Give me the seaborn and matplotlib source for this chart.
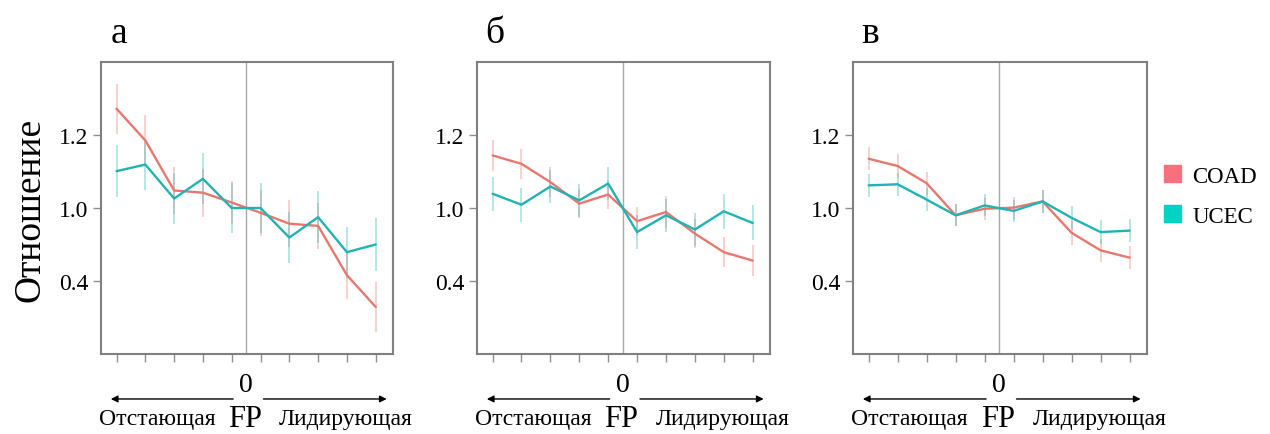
import numpy as np
import pandas as pd
import matplotlib
matplotlib.use("Agg")
import matplotlib.pyplot as plt
import matplotlib.transforms as mtransforms
from matplotlib.patches import Patch
import seaborn as sns

# data
positions = list(range(1, 11))
panel_labels = ["а", "б", "в"]
groups = ["COAD", "UCEC"]

coad_a = [1.272, 1.185, 1.048, 1.042, 1.015, 0.987, 0.957, 0.951, 0.816, 0.729]
ucec_a = [1.101, 1.119, 1.026, 1.080, 1.000, 1.000, 0.919, 0.975, 0.879, 0.900]
coad_a_err = [0.069, 0.070, 0.065, 0.066, 0.060, 0.063, 0.065, 0.064, 0.066, 0.068]
ucec_a_err = [0.072, 0.070, 0.070, 0.070, 0.068, 0.068, 0.070, 0.072, 0.070, 0.073]

coad_b = [1.144, 1.121, 1.071, 1.012, 1.037, 0.964, 0.989, 0.930, 0.879, 0.856]
ucec_b = [1.039, 1.009, 1.059, 1.021, 1.067, 0.934, 0.980, 0.941, 0.991, 0.959]
coad_b_err = [0.042, 0.041, 0.040, 0.040, 0.040, 0.040, 0.045, 0.040, 0.041, 0.043]
ucec_b_err = [0.047, 0.046, 0.046, 0.046, 0.046, 0.046, 0.046, 0.046, 0.048, 0.048]

coad_c = [1.135, 1.115, 1.068, 0.980, 0.998, 1.001, 1.018, 0.932, 0.884, 0.864]
ucec_c = [1.062, 1.065, 1.023, 0.980, 1.007, 0.992, 1.018, 0.973, 0.934, 0.938]
coad_c_err = [0.032, 0.032, 0.032, 0.030, 0.030, 0.030, 0.032, 0.032, 0.032, 0.032]
ucec_c_err = [0.032, 0.032, 0.032, 0.030, 0.030, 0.030, 0.032, 0.032, 0.032, 0.032]

ytick_pos = [0.8, 1.0, 1.2]
ytick_labels = ["0.4", "1.0", "1.2"]

panels = [
    (coad_a, ucec_a, coad_a_err, ucec_a_err),
    (coad_b, ucec_b, coad_b_err, ucec_b_err),
    (coad_c, ucec_c, coad_c_err, ucec_c_err),
]

line_colors = {"COAD": "#E8776E", "UCEC": "#1FB3B3"}
legend_colors = {"COAD": "#F8707E", "UCEC": "#00D3C3"}

sns.set_theme(style="white")
plt.rcParams["font.family"] = ["Liberation Serif", "DejaVu Serif"]
plt.rcParams["text.color"] = "black"

fig = plt.figure(figsize=(12.7, 4.35), dpi=100)
lefts = [101, 477, 853]
widths = [292, 293, 294]

for i, (coad, ucec, coad_err, ucec_err) in enumerate(panels):
    ax = fig.add_axes([lefts[i] / 1270, 80 / 435, widths[i] / 1270, 292 / 435])
    df = pd.DataFrame({
        "pos": positions * 2,
        "ratio": coad + ucec,
        "err": coad_err + ucec_err,
        "group": ["COAD"] * 10 + ["UCEC"] * 10,
    })
    ax.axvline(5.5, color="#a8a8a8", lw=1.0, zorder=1)
    for g in groups:
        d = df[df["group"] == g]
        ax.vlines(d["pos"], d["ratio"] - d["err"], d["ratio"] + d["err"],
                  color=line_colors[g], alpha=0.35, lw=1.3, zorder=2)
    sns.lineplot(data=df, x="pos", y="ratio", hue="group", palette=line_colors,
                 errorbar=None, legend=False, ax=ax, lw=1.7, zorder=3)

    ax.set_xlim(0.46, 10.6)
    ax.set_ylim(0.6, 1.4)
    ax.set_xticks(positions)
    ax.set_xticklabels([])
    ax.set_yticks(ytick_pos)
    ax.set_yticklabels(ytick_labels, fontsize=17, color="black")
    ax.set_xlabel("")
    ax.set_ylabel("")
    ax.tick_params(axis="both", which="both", direction="out", length=6,
                   width=1.0, color="#909090", left=True, bottom=True, pad=3)
    for s in ax.spines.values():
        s.set_color("#808080")
        s.set_linewidth(1.5)

    ax.text(0.06, 1.068, panel_labels[i], transform=ax.transAxes,
            fontsize=27, ha="center", va="baseline")

    tr = mtransforms.blended_transform_factory(ax.transData, ax.transAxes)
    ax.text(5.5, -0.106, "0", transform=tr, fontsize=20, ha="center", va="center")
    ax.annotate("", xy=(0.8, -0.154), xytext=(5.05, -0.154), xycoords=tr,
                textcoords=tr, annotation_clip=False,
                arrowprops=dict(arrowstyle="-|>", color="black", lw=1.0,
                                mutation_scale=10, shrinkA=0, shrinkB=0))
    ax.annotate("", xy=(10.38, -0.154), xytext=(6.1, -0.154), xycoords=tr,
                textcoords=tr, annotation_clip=False,
                arrowprops=dict(arrowstyle="-|>", color="black", lw=1.0,
                                mutation_scale=10, shrinkA=0, shrinkB=0))
    ax.text(2.4, -0.22, "Отстающая", transform=tr, fontsize=17, ha="center", va="center")
    ax.text(5.46, -0.22, "FP", transform=tr, fontsize=22, ha="center", va="center")
    ax.text(8.97, -0.22, "Лидирующая", transform=tr, fontsize=17, ha="center", va="center")

fig.text(30 / 1270, 1 - 210 / 435, "Отношение", rotation=90, fontsize=27,
         ha="center", va="center")

handles = [Patch(color=legend_colors[g], label=g) for g in groups]
fig.legend(handles=handles, loc="center left", bbox_to_anchor=(1143 / 1270, 1 - 197 / 435),
           frameon=False, fontsize=16.5, handlelength=0.75, handleheight=0.75,
           handletextpad=0.5, labelspacing=0.8)

fig.savefig("out.png", dpi=100)
